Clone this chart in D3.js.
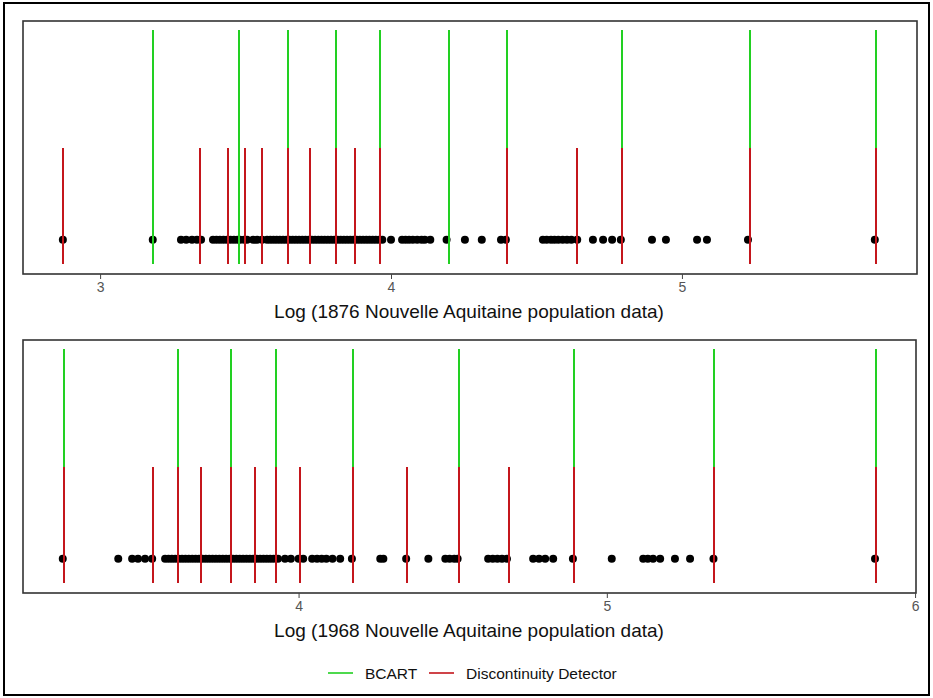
<!DOCTYPE html>
<html lang="en">
<head>
<meta charset="utf-8">
<title>BCART vs Discontinuity Detector</title>
<script src="https://cdn.jsdelivr.net/npm/d3@7/dist/d3.min.js"></script>
<style>
  body { margin: 0; background: #fff; }
  .axis path { display: none; }
  .axis line { stroke: #444; }
  .axis text { font-family: "Liberation Sans", Arial, sans-serif; font-size: 14px; fill: #555; }
</style>
</head>
<body>
<script>
// break points found by each method (log10 of population)
var topGreen = [3.179, 3.474, 3.642, 3.808, 3.960, 4.195, 4.395, 4.790, 5.229, 5.663];
var topRed = [2.869, 3.340, 3.435, 3.496, 3.553, 3.642, 3.719, 3.808, 3.873, 3.960, 4.395, 4.636, 4.790, 5.229, 5.663];
var topDots = [2.872, 3.181, 3.278, 3.296, 3.316, 3.333, 3.347,
  3.388, 3.400, 3.412, 3.424, 3.436, 3.448, 3.460, 3.472, 3.481, 3.495, 3.505,
  3.526, 3.540, 3.557, 3.574, 3.585, 3.596, 3.607, 3.618, 3.629, 3.640, 3.651,
  3.662, 3.673, 3.684, 3.695, 3.706, 3.717, 3.728, 3.739, 3.750, 3.761, 3.772,
  3.783, 3.794, 3.805, 3.816, 3.827, 3.838, 3.849, 3.860, 3.871, 3.882, 3.893,
  3.904, 3.915, 3.926, 3.937, 3.948, 3.959, 3.970, 4.000,
  4.038, 4.050, 4.062, 4.075, 4.090, 4.105, 4.116, 4.135, 4.191, 4.254, 4.312,
  4.378, 4.395, 4.522, 4.535, 4.550, 4.562, 4.575, 4.590, 4.605, 4.620, 4.640,
  4.694, 4.729, 4.760, 4.790, 4.897, 4.945, 5.052, 5.086, 5.227, 5.663];

var botGreen = [3.235, 3.604, 3.778, 3.923, 4.173, 4.516, 4.890, 5.346, 5.870];
var botRed = [3.235, 3.525, 3.604, 3.681, 3.778, 3.857, 3.923, 4.002, 4.173, 4.348, 4.516, 4.679, 4.890, 5.346, 5.870];
var botDots = [3.235, 3.415, 3.460, 3.479, 3.502, 3.525,
  3.567, 3.578, 3.589, 3.600, 3.611, 3.622, 3.633, 3.644, 3.655, 3.666, 3.677,
  3.688, 3.699, 3.710, 3.721, 3.732, 3.743, 3.754, 3.765, 3.776, 3.787, 3.798,
  3.809, 3.820, 3.831, 3.842, 3.853, 3.864, 3.875, 3.886, 3.897, 3.908, 3.919, 3.933,
  3.956, 3.975, 4.000, 4.015, 4.044, 4.060, 4.075, 4.090, 4.110, 4.135,
  4.173, 4.265, 4.275, 4.349, 4.421, 4.476, 4.490, 4.505, 4.516,
  4.615, 4.630, 4.645, 4.660, 4.676, 4.761, 4.780, 4.800, 4.826, 4.890, 5.016,
  5.118, 5.133, 5.150, 5.173, 5.221, 5.270, 5.346, 5.870];

var topTicks = [3, 4, 5];
var botTicks = [4, 5, 6];
var topTitle = "Log (1876 Nouvelle Aquitaine population data)";
var botTitle = "Log (1968 Nouvelle Aquitaine population data)";
var legendNames = ["BCART", "Discontinuity Detector"];

var W = 933, H = 698;
var green = "#22d022", red = "#c4161c";

var svg = d3.select("body").append("svg").attr("width", W).attr("height", H);

// outer frame
svg.append("rect").attr("x", 4).attr("y", 3).attr("width", W - 8).attr("height", H - 6)
  .attr("fill", "none").attr("stroke", "#000").attr("stroke-width", 2);

function panel(top, bottom, domain, right, greens, reds, dots, ticks, title) {
  var left = 23;
  var x = d3.scaleLinear().domain(domain).range([left, right]);
  // y in [0,1]: 0 = bottom of box, 1 = top
  var y = d3.scaleLinear().domain([0, 1]).range([bottom, top]);
  var g = svg.append("g");
  var px = function(d) { return Math.round(x(d)) + 0.5; };

  // dots first, the break lines are drawn on top of them
  g.selectAll("circle").data(dots).enter().append("circle")
    .attr("cx", function(d) { return x(d); }).attr("cy", y(0.135))
    .attr("r", 4).attr("fill", "#000");

  g.selectAll(".gl").data(greens).enter().append("line")
    .attr("x1", px).attr("x2", px)
    .attr("y1", y(0.04)).attr("y2", y(0.965))
    .attr("stroke", green).attr("stroke-width", 2).attr("shape-rendering", "crispEdges");

  g.selectAll(".rl").data(reds).enter().append("line")
    .attr("x1", px).attr("x2", px)
    .attr("y1", y(0.04)).attr("y2", y(0.5))
    .attr("stroke", red).attr("stroke-width", 2).attr("shape-rendering", "crispEdges");

  g.append("rect").attr("x", left).attr("y", top).attr("width", right - left).attr("height", bottom - top)
    .attr("fill", "none").attr("stroke", "#333").attr("stroke-width", 1.6);

  var axis = d3.axisBottom(x).tickValues(ticks).tickSize(5).tickPadding(3).tickFormat(d3.format("d"));
  svg.append("g").attr("class", "axis").attr("transform", "translate(0," + bottom + ")").call(axis);

  svg.append("text").attr("x", 469).attr("y", bottom + 44)
    .attr("text-anchor", "middle")
    .attr("font-family", "Liberation Sans, Arial, sans-serif").attr("font-size", "19px").attr("fill", "#111")
    .text(title);
}

panel(21, 274, [2.735, 5.808], 917, topGreen, topRed, topDots, topTicks, topTitle);
panel(340, 593, [3.106, 6.003], 916, botGreen, botRed, botDots, botTicks, botTitle);

// legend
var lg = svg.append("g").attr("transform", "translate(0,673)");
var items = [{name: legendNames[0], c: green, x: 328}, {name: legendNames[1], c: red, x: 429}];
items.forEach(function(it) {
  lg.append("line").attr("x1", it.x).attr("x2", it.x + 25).attr("y1", 0).attr("y2", 0)
    .attr("stroke", it.c).attr("stroke-width", 1.6);
  lg.append("text").attr("x", it.x + 37).attr("y", 5.5)
    .attr("font-family", "Liberation Sans, Arial, sans-serif").attr("font-size", "15.5px").attr("fill", "#111")
    .text(it.name);
});
</script>
</body>
</html>
